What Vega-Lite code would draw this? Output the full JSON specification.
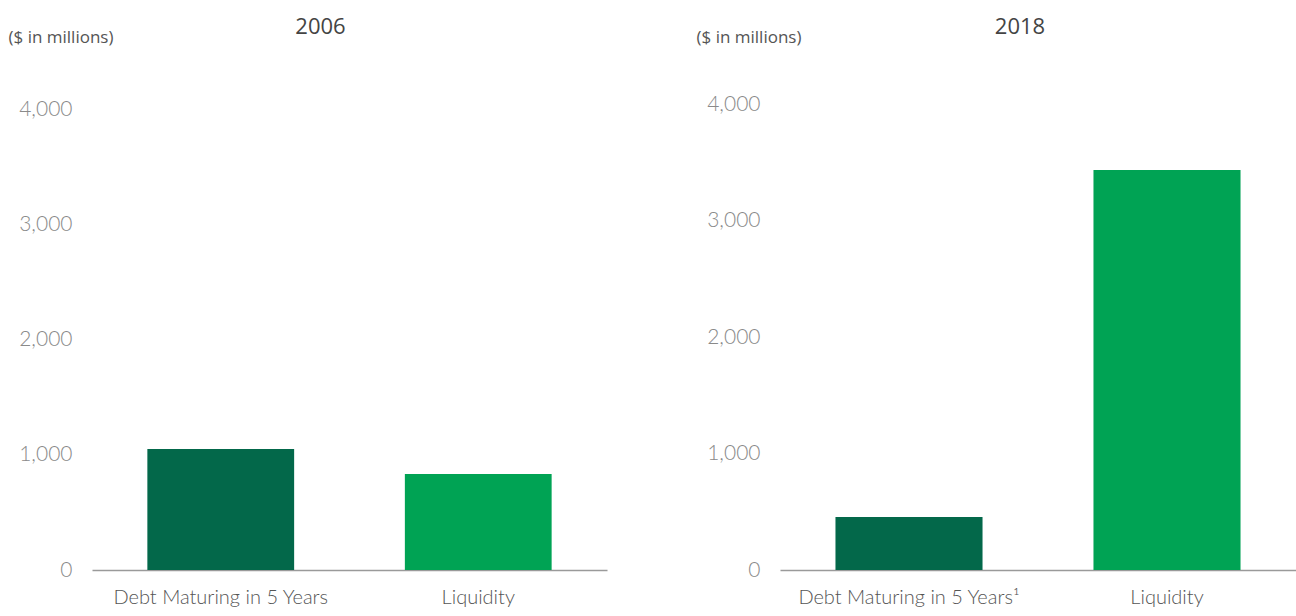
{
  "$schema": "https://vega.github.io/schema/vega-lite/v6.json",
  "padding": {"left": 8, "top": 16, "right": 0, "bottom": 0},
  "autosize": {"type": "pad"},
  "spacing": 89,
  "background": "white",
  "datasets": {
    "d2006": [
      {"category": "Debt Maturing in 5 Years", "type": "Debt", "value": 1052},
      {"category": "Liquidity", "type": "Liquidity", "value": 835}
    ],
    "d2018": [
      {"category": "Debt Maturing in 5 Years¹", "type": "Debt", "value": 455},
      {"category": "Liquidity", "type": "Liquidity", "value": 3433}
    ]
  },
  "config": {
    "view": {"stroke": null},
    "title": {"font": "Open Sans", "fontSize": 22, "fontWeight": "normal", "color": "#444444", "anchor": "middle"},
    "axisX": {"title": null, "labelAngle": 0, "labelLimit": 400, "domain": true, "domainColor": "#9a9a9a", "domainWidth": 1.5, "ticks": false, "grid": false, "labelPadding": 17, "labelFont": "Lato", "labelFontSize": 20, "labelFontWeight": 300, "labelColor": "#555555"},
    "axisY": {"domain": false, "ticks": false, "grid": false, "labelPadding": 20, "labelFont": "Lato", "labelFontSize": 21, "labelFontWeight": 300, "labelColor": "#8a8a8a", "titleAngle": 0, "titleAlign": "left", "titleBaseline": "middle", "titleX": -84, "titleY": -67, "titleFont": "Open Sans", "titleFontSize": 17, "titleFontWeight": "normal", "titleColor": "#555555"}
  },
  "hconcat": [
    {
      "data": {"name": "d2006"},
      "width": 515,
      "height": 466,
      "title": {"text": "2006", "dx": -29, "dy": 15},
      "mark": {"type": "bar"},
      "encoding": {
        "x": {"field": "category", "type": "nominal", "sort": null, "scale": {"paddingInner": 0.43, "paddingOuter": 0.215}},
        "y": {"field": "value", "type": "quantitative", "scale": {"domain": [0, 4052], "nice": false}, "axis": {"values": [0, 1000, 2000, 3000, 4000], "format": ",.0f", "title": "($ in millions)"}},
        "color": {"field": "type", "type": "nominal", "scale": {"domain": ["Debt", "Liquidity"], "range": ["#03684A", "#00A354"]}, "legend": null}
      }
    },
    {
      "data": {"name": "d2018"},
      "width": 516,
      "height": 466,
      "title": {"text": "2018", "dx": -18, "dy": 15},
      "mark": {"type": "bar"},
      "encoding": {
        "x": {"field": "category", "type": "nominal", "sort": null, "scale": {"paddingInner": 0.43, "paddingOuter": 0.215}},
        "y": {"field": "value", "type": "quantitative", "scale": {"domain": [0, 4000], "nice": false}, "axis": {"values": [0, 1000, 2000, 3000, 4000], "format": ",.0f", "title": "($ in millions)"}},
        "color": {"field": "type", "type": "nominal", "scale": {"domain": ["Debt", "Liquidity"], "range": ["#03684A", "#00A354"]}, "legend": null}
      }
    }
  ]
}
